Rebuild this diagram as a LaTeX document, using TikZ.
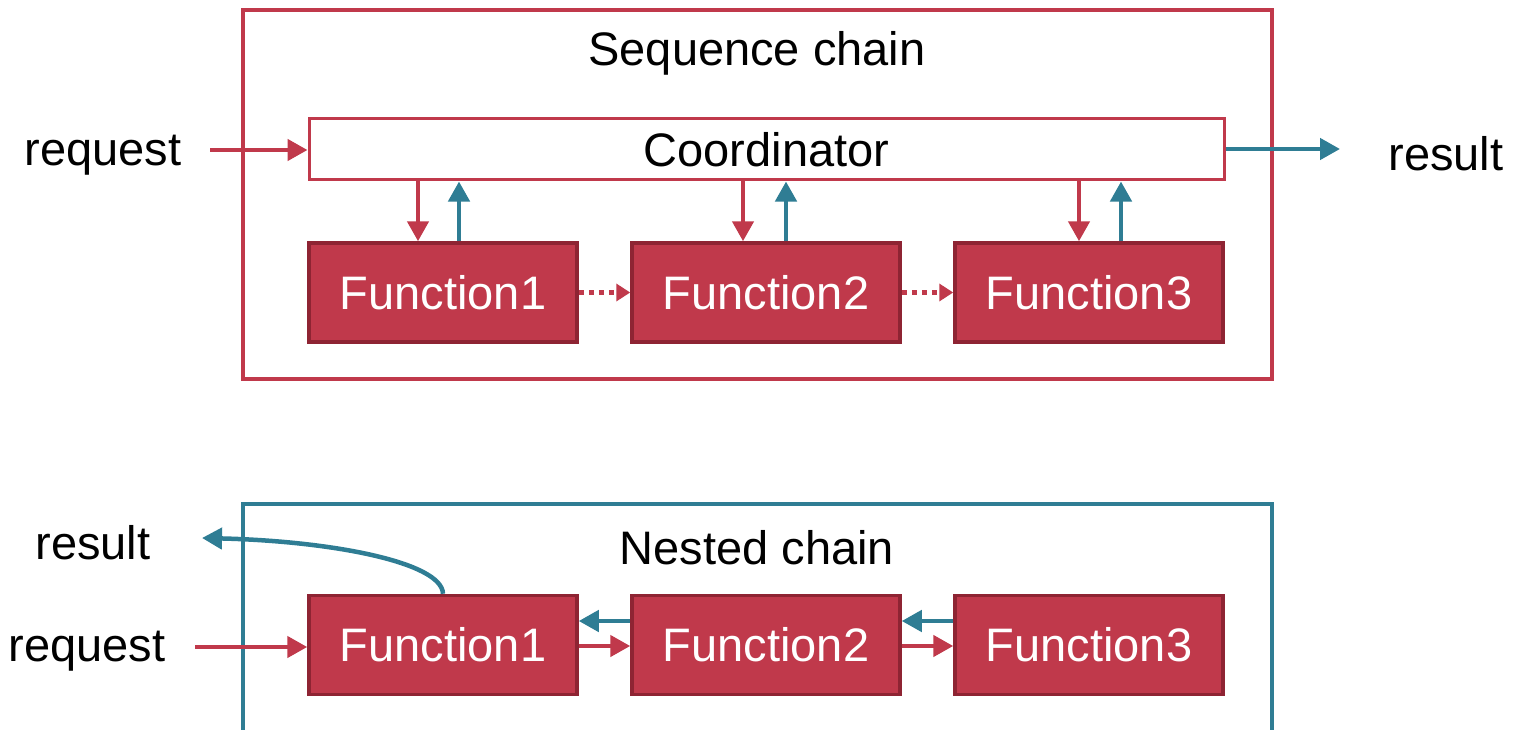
\documentclass[tikz,border=0pt]{standalone}
\usepackage{fontspec}
\setmainfont{Liberation Sans}
\usetikzlibrary{arrows.meta}
\definecolor{chainred}{RGB}{192,57,75}
\definecolor{chaindark}{RGB}{142,36,51}
\definecolor{chainteal}{RGB}{47,125,148}
\tikzset{
  frame/.style={draw=#1, line width=3.5pt},
  funcbox/.style={draw=chaindark, fill=chainred, line width=3.5pt,
    minimum width=268pt, minimum height=99pt, inner sep=0pt,
    text=white, font=\fontsize{47}{56}\selectfont},
  coordbox/.style={draw=chainred, fill=white, line width=3pt,
    minimum width=915pt, minimum height=61pt, inner sep=0pt,
    font=\fontsize{47}{56}\selectfont},
  lbl/.style={font=\fontsize{47}{56}\selectfont, inner sep=0pt},
  flow/.style={line width=4.5pt, draw=#1,
    -{Triangle[length=20pt,width=21pt,fill=#1]}},
  dotflow/.style={line width=5pt, draw=chainred, dash pattern=on 5pt off 5pt,
    -{Triangle[length=14pt,width=17pt,fill=chainred,sep=0pt]}},
}
\begin{document}
\begin{tikzpicture}[x=1pt,y=-1pt]
\useasboundingbox (0,0) rectangle (1514,730);
\fill[white] (0,0) rectangle (1514,730);

% ---- sequence chain ----
\draw[frame=chainred] (243,10) rectangle (1272,379);
\node[lbl] (seqtitle) at (757,53) {Sequence chain};
\node[coordbox] (coord) at (766.5,149.5) {\raisebox{-3pt}{Coordinator}};
\node[funcbox] (s1) at (443,292.5) {\raisebox{-3pt}{Function1}};
\node[funcbox] (s2) at (766,292.5) {\raisebox{-3pt}{Function2}};
\node[funcbox] (s3) at (1089,292.5) {\raisebox{-3pt}{Function3}};

\node[lbl] (req1) at (103,155) {request};
\node[lbl] (res1) at (1446,154) {result};

\coordinate (reqend) at (210,150);
\coordinate (resend) at (1340,149);
\draw[flow=chainred] (reqend) -- (coord.west |- reqend);
\draw[flow=chainteal] (coord.east |- resend) -- (resend);

\coordinate (d1) at (418,0); \coordinate (u1) at (459,0);
\coordinate (d2) at (743,0); \coordinate (u2) at (786,0);
\coordinate (d3) at (1079,0); \coordinate (u3) at (1121,0);
\foreach \f/\d/\u in {s1/d1/u1, s2/d2/u2, s3/d3/u3}{
  \draw[flow=chainred] (coord.south -| \d) -- (\f.north -| \d);
  \draw[flow=chainteal] (\f.north -| \u) -- (coord.south -| \u);
}
\draw[dotflow] (s1.east) -- (s2.west);
\draw[dotflow] (s2.east) -- (s3.west);

% ---- nested chain ----
\draw[frame=chainteal] (243,504) rectangle (1272,760);
\node[lbl] (nesttitle) at (757,548) {Nested chain};
\node[funcbox] (n1) at (443,645) {\raisebox{-3pt}{Function1}};
\node[funcbox] (n2) at (766,645) {\raisebox{-3pt}{Function2}};
\node[funcbox] (n3) at (1089,645) {\raisebox{-3pt}{Function3}};

\node[lbl] (res2) at (93,543) {result};
\node[lbl] (req2) at (87,651) {request};

\coordinate (req2end) at (195,647);
\draw[flow=chainred] (req2end) -- (n1.west |- req2end);

\coordinate (back) at (0,621);
\coordinate (fwd) at (0,646);
\draw[flow=chainteal] (n2.west |- back) -- (n1.east |- back);
\draw[flow=chainteal] (n3.west |- back) -- (n2.east |- back);
\draw[flow=chainred] (n1.east |- fwd) -- (n2.west |- fwd);
\draw[flow=chainred] (n2.east |- fwd) -- (n3.west |- fwd);

\coordinate (curvefoot) at (443,0);
\coordinate (resultend) at (202,538);
\draw[flow=chainteal] (n1.north -| curvefoot)
  .. controls (442,562) and (330,541) .. (resultend);
\end{tikzpicture}
\end{document}
